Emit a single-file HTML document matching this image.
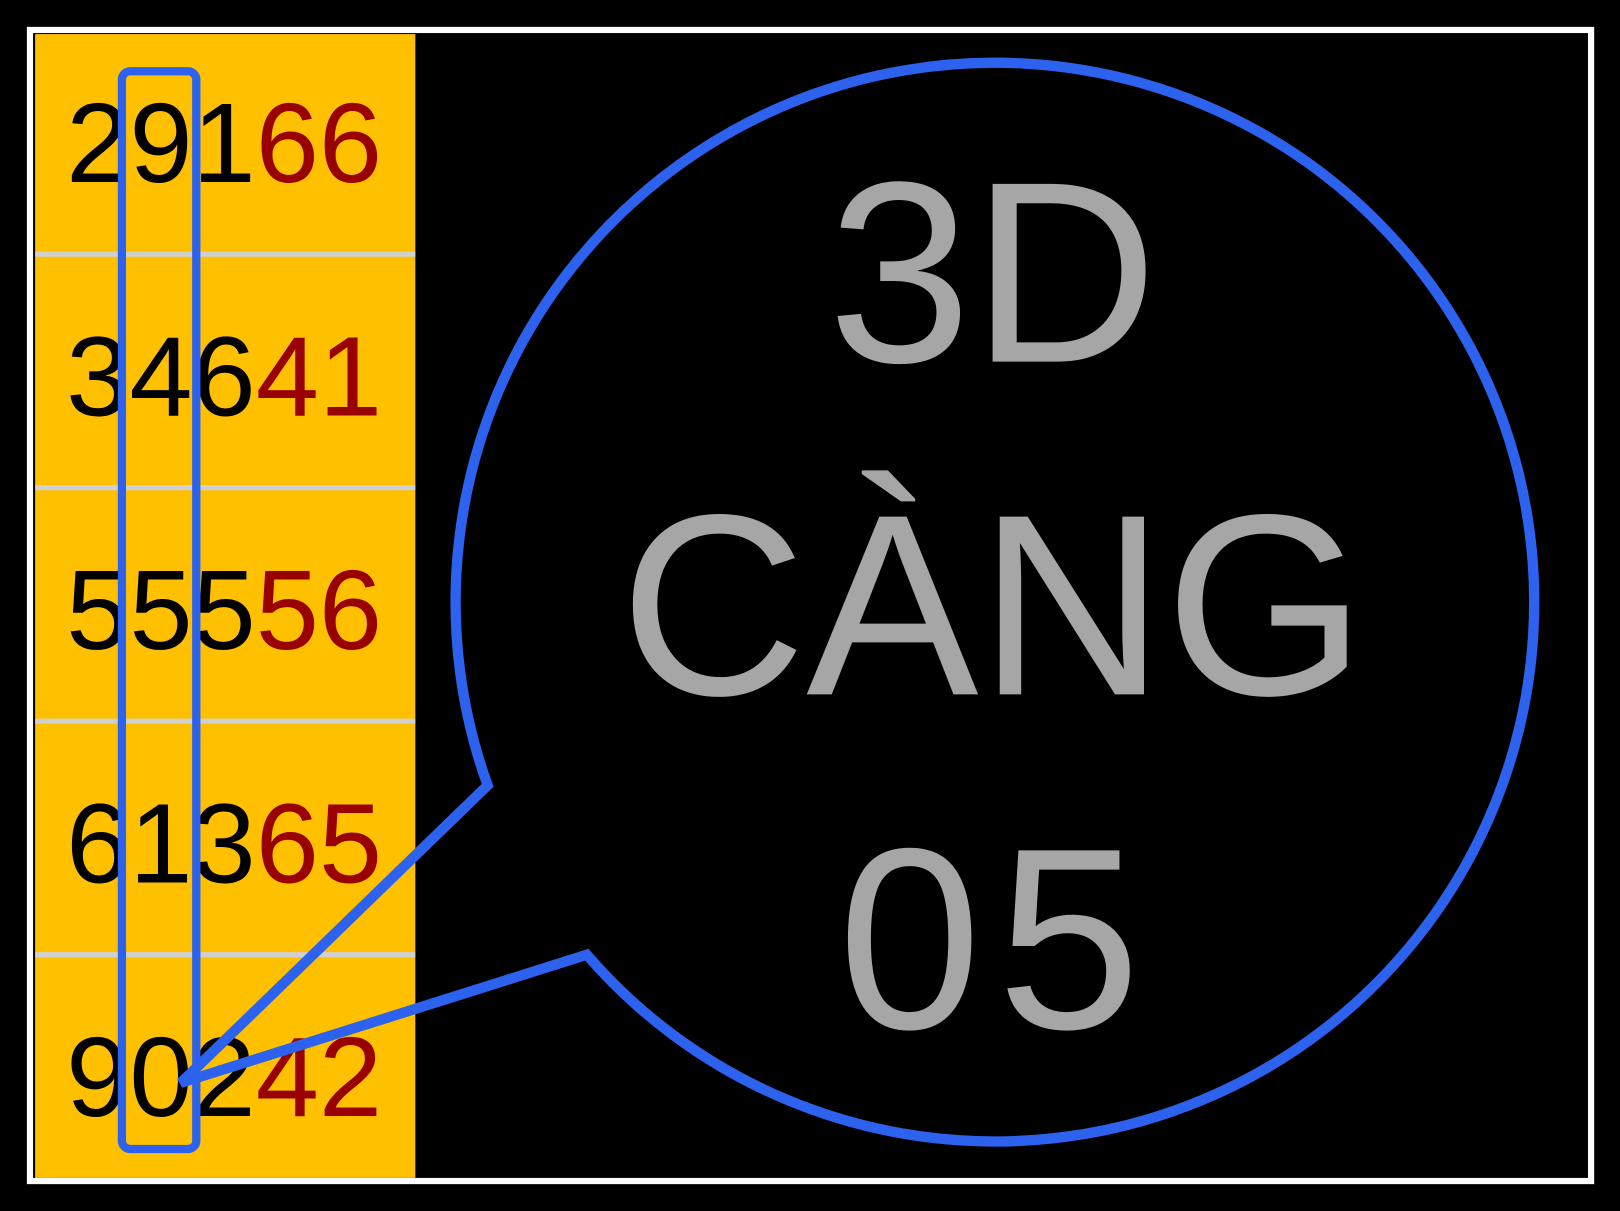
<!DOCTYPE html>
<html><head><meta charset="utf-8"><style>html,body{margin:0;padding:0;background:#000}svg{display:block}</style></head>
<body>
<svg width="1620" height="1211" viewBox="0 0 1568 1172" preserveAspectRatio="none" xmlns="http://www.w3.org/2000/svg">
<rect x="0" y="0" width="1568" height="1172" fill="#000"/>
<rect x="29" y="29" width="1511" height="1114" fill="#000" stroke="#fff" stroke-width="6"/>
<rect x="34" y="33" width="368" height="1107" fill="#FFC000"/>
<g stroke="#D0D0D0" stroke-width="5">
<line x1="34" y1="246" x2="402" y2="246"/>
<line x1="34" y1="472" x2="402" y2="472"/>
<line x1="34" y1="698" x2="402" y2="698"/>
<line x1="34" y1="924" x2="402" y2="924"/>
</g>
<g font-family="Liberation Sans, sans-serif" font-size="110" fill="#000">
<text x="64" y="176">291<tspan fill="#990000">66</tspan></text>
<text x="64" y="402">346<tspan fill="#990000">41</tspan></text>
<text x="64" y="628">555<tspan fill="#990000">56</tspan></text>
<text x="64" y="854">613<tspan fill="#990000">65</tspan></text>
<text x="64" y="1080">902<tspan fill="#990000">42</tspan></text>
</g>
<rect x="118" y="69" width="72" height="1043" rx="8" fill="none" stroke="#2D62EE" stroke-width="8"/>
<path d="M 472 760 L 175 1048 L 568 924 A 522 522 0 1 0 472 760 Z" fill="none" stroke="#2D62EE" stroke-width="10" stroke-linejoin="miter"/>
<g font-family="Liberation Sans, sans-serif" font-size="250" fill="#A6A6A6" text-anchor="middle">
<text x="961" y="350">3D</text>
<text x="961" y="672">CÀNG</text>
<text x="965" y="995" letter-spacing="15">05</text>
</g>
</svg>
</body></html>
